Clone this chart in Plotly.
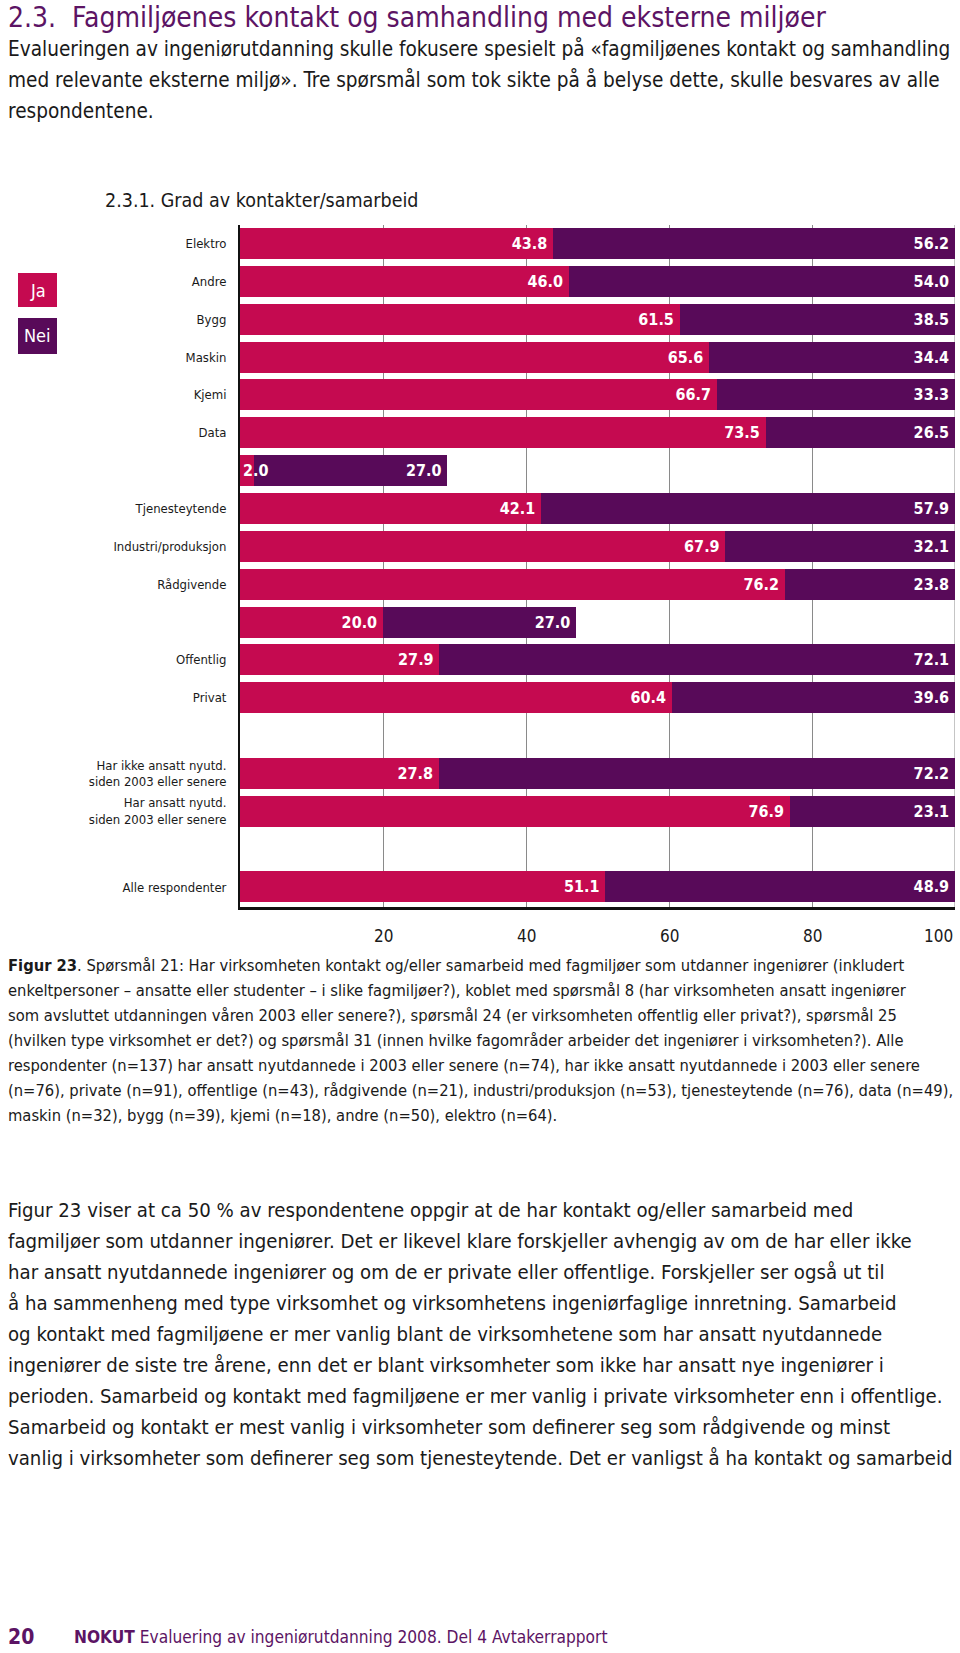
import plotly.graph_objects as go

# ---------------- data ----------------
categories = ["Elektro", "Andre", "Bygg", "Maskin", "Kjemi", "Data", " ",
              "Tjenesteytende", "Industri/produksjon", "Rådgivende", "  ",
              "Offentlig", "Privat", "   ",
              "Har ikke ansatt nyutd.<br>siden 2003 eller senere",
              "Har ansatt nyutd.<br>siden 2003 eller senere", "    ",
              "Alle respondenter"]
ja_values = [43.8, 46.0, 61.5, 65.6, 66.7, 73.5, 2.0, 42.1, 67.9, 76.2, 20.0,
             27.9, 60.4, None, 27.8, 76.9, None, 51.1]
nei_values = [56.2, 54.0, 38.5, 34.4, 33.3, 26.5, 27.0, 57.9, 32.1, 23.8, 27.0,
              72.1, 39.6, None, 72.2, 23.1, None, 48.9]
x_ticks = [20, 40, 60, 80, 100]
series_names = ["Ja", "Nei"]

title = "2.3.&nbsp;&nbsp;Fagmiljøenes kontakt og samhandling med eksterne miljøer"
intro_lines = [
    "Evalueringen av ingeniørutdanning skulle fokusere spesielt på «fagmiljøenes kontakt og samhandling",
    "med relevante eksterne miljø». Tre spørsmål som tok sikte på å belyse dette, skulle besvares av alle",
    "respondentene.",
]
subtitle = "2.3.1. Grad av kontakter/samarbeid"
caption_lines = [
    "<b>Figur 23</b>. Spørsmål 21: Har virksomheten kontakt og/eller samarbeid med fagmiljøer som utdanner ingeniører (inkludert",
    "enkeltpersoner – ansatte eller studenter – i slike fagmiljøer?), koblet med spørsmål 8 (har virksomheten ansatt ingeniører",
    "som avsluttet utdanningen våren 2003 eller senere?), spørsmål 24 (er virksomheten offentlig eller privat?), spørsmål 25",
    "(hvilken type virksomhet er det?) og spørsmål 31 (innen hvilke fagområder arbeider det ingeniører i virksomheten?). Alle",
    "respondenter (n=137) har ansatt nyutdannede i 2003 eller senere (n=74), har ikke ansatt nyutdannede i 2003 eller senere",
    "(n=76), private (n=91), offentlige (n=43), rådgivende (n=21), industri/produksjon (n=53), tjenesteytende (n=76), data (n=49),",
    "maskin (n=32), bygg (n=39), kjemi (n=18), andre (n=50), elektro (n=64).",
]
body_lines = [
    "Figur 23 viser at ca 50 % av respondentene oppgir at de har kontakt og/eller samarbeid med",
    "fagmiljøer som utdanner ingeniører. Det er likevel klare forskjeller avhengig av om de har eller ikke",
    "har ansatt nyutdannede ingeniører og om de er private eller offentlige. Forskjeller ser også ut til",
    "å ha sammenheng med type virksomhet og virksomhetens ingeniørfaglige innretning. Samarbeid",
    "og kontakt med fagmiljøene er mer vanlig blant de virksomhetene som har ansatt nyutdannede",
    "ingeniører de siste tre årene, enn det er blant virksomheter som ikke har ansatt nye ingeniører i",
    "perioden. Samarbeid og kontakt med fagmiljøene er mer vanlig i private virksomheter enn i offentlige.",
    "Samarbeid og kontakt er mest vanlig i virksomheter som definerer seg som rådgivende og minst",
    "vanlig i virksomheter som definerer seg som tjenesteytende. Det er vanligst å ha kontakt og samarbeid",
]
footer_page = "20"
footer_text = "<b>NOKUT</b> Evaluering av ingeniørutdanning 2008. Del 4 Avtakerrapport"

# ---------------- style ----------------
W, H = 960, 1653
JA = "#C50A50"
NEI = "#580A59"
PURPLE = "#5C1464"
FONT = "DejaVu Sans Condensed, Roboto, sans-serif"
LABEL_MIN = 5.0   # segments narrower than this get their label beside the axis


def py(px):
    return 1 - px / H


def px_x(px):
    return px / W


def fmt(vals):
    # trailing thin space keeps the label a little away from the segment end
    return ["" if (v is None or v < LABEL_MIN) else f"{v:.1f}\u2009" for v in vals]


fig = go.Figure()
for name, vals, col in [(series_names[0], ja_values, JA), (series_names[1], nei_values, NEI)]:
    fig.add_trace(go.Bar(
        name=name, y=categories, x=vals, orientation="h",
        marker=dict(color=col, line=dict(width=0)),
        width=0.82,
        text=fmt(vals), textposition="inside", insidetextanchor="end",
        textangle=0,
        textfont=dict(color="white", size=16, family=FONT, weight="bold"),
        hoverinfo="skip",
    ))

fig.update_layout(
    width=W, height=H, autosize=False,
    margin=dict(l=0, r=0, t=0, b=0),
    paper_bgcolor="white", plot_bgcolor="white",
    barmode="stack", showlegend=False,
    uniformtext=dict(mode="show", minsize=16),
    font=dict(family=FONT, color="#1a1a1a"),
)
fig.update_xaxes(
    domain=[px_x(240), px_x(955)], range=[0, 100],
    tickvals=[0] + x_ticks, showticklabels=False,
    showgrid=True, gridcolor="#8a8a8a", gridwidth=1, zeroline=False,
    showline=True, linecolor="#111111", linewidth=3, ticks="",
    anchor="y",
)
fig.update_yaxes(
    domain=[py(907), py(225)],
    categoryorder="array", categoryarray=categories,
    range=[17.53, -0.49],
    showgrid=False, zeroline=False,
    showline=True, linecolor="#111111", linewidth=2,
    ticks="", ticklabelstandoff=9,
    tickfont=dict(size=13, family=FONT, color="#1a1a1a"),
)

ann = []
# labels of very narrow segments, placed just right of the axis
for cat, v in zip(categories, ja_values):
    if v is not None and v < LABEL_MIN:
        ann.append(dict(x=0, xref="x", y=cat, yref="y", text=f"{v:.1f}",
                        showarrow=False, xanchor="left", yanchor="middle", xshift=1,
                        font=dict(size=16, family=FONT, color="white", weight="bold")))
# x tick labels placed at axis data coordinates
for v in x_ticks:
    ann.append(dict(x=v, xref="x", y=py(936), yref="paper", text=str(v),
                    showarrow=False, xanchor="right" if v == 100 else "center",
                    yanchor="middle", font=dict(size=17, family=FONT, color="#1a1a1a")))


def line(text, x, y, size, color="#1a1a1a", weight="normal"):
    ann.append(dict(x=px_x(x), xref="paper", y=py(y), yref="paper", text=text,
                    showarrow=False, xanchor="left", yanchor="middle",
                    font=dict(size=size, family=FONT, color=color, weight=weight)))


line(title, 6, 17, 28, PURPLE)
for i, t in enumerate(intro_lines):
    line(t, 6, 49 + 31 * i, 20.6)
line(subtitle, 103, 200, 19.5)
for i, t in enumerate(caption_lines):
    line(t, 6, 965 + 25 * i, 16.4)
for i, t in enumerate(body_lines):
    line(t, 6, 1210 + 31 * i, 20.2)
line(footer_page, 6, 1637, 21, PURPLE, "bold")
line(footer_text, 72, 1637, 17.2, PURPLE)

shapes = []
# gridline at the right end of the axis
shapes.append(dict(type="line", xref="x", yref="y domain", x0=100, x1=100, y0=0, y1=1,
                   line=dict(color="#8a8a8a", width=1), layer="below"))
# legend boxes
for (name, col, top, bot) in [(series_names[0], JA, 273, 307), (series_names[1], NEI, 318, 354)]:
    shapes.append(dict(type="rect", xref="paper", yref="paper",
                       x0=px_x(18), x1=px_x(57), y0=py(bot), y1=py(top),
                       fillcolor=col, line=dict(width=0)))
    ann.append(dict(x=px_x(37.5), xref="paper", y=py((top + bot) / 2), yref="paper",
                    text=name, showarrow=False, xanchor="center", yanchor="middle",
                    font=dict(size=18, family=FONT, color="white")))

fig.update_layout(annotations=ann, shapes=shapes)
fig.write_html(
    "out.html",
    config={"displayModeBar": False},
    post_script="document.body.style.margin='0';document.body.style.overflow='hidden';",
)
